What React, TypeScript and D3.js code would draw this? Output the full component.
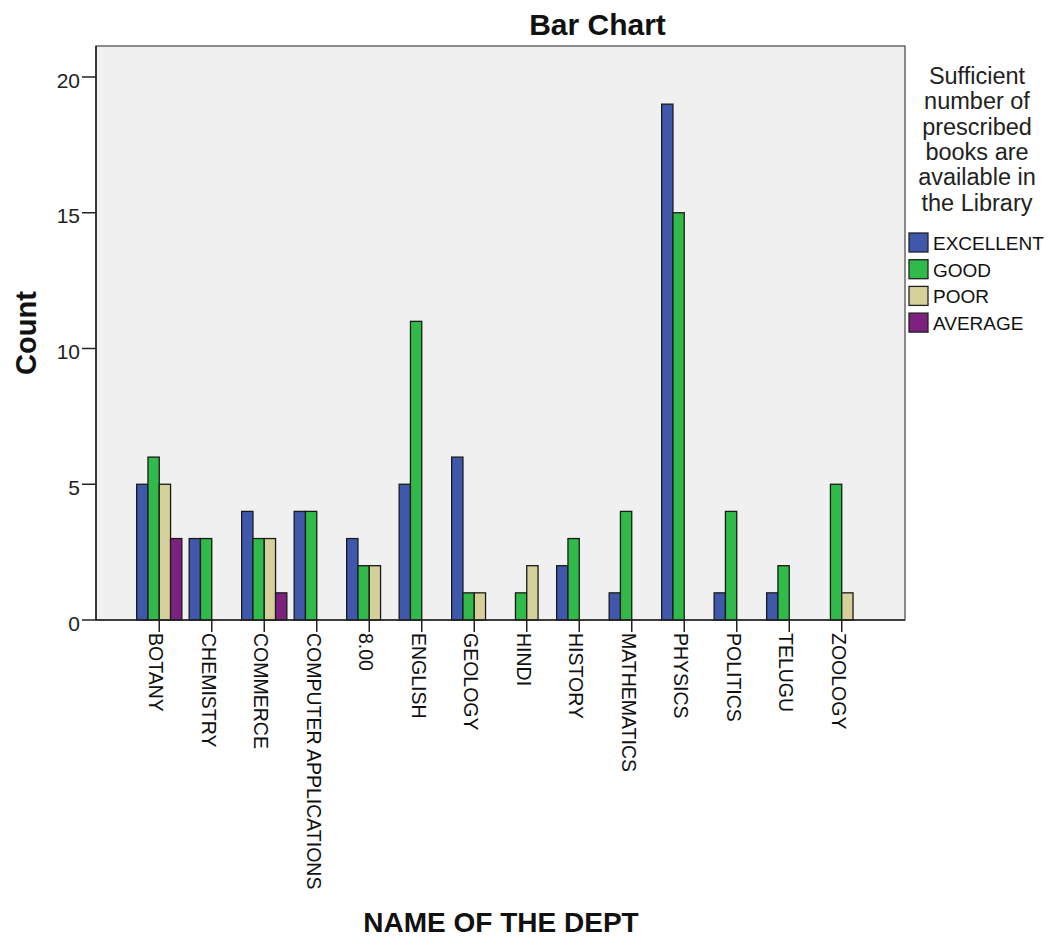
import React from "react";
import * as d3 from "d3";

const categories = ["BOTANY","CHEMISTRY","COMMERCE","COMPUTER APPLICATIONS","8.00","ENGLISH","GEOLOGY","HINDI","HISTORY","MATHEMATICS","PHYSICS","POLITICS","TELUGU","ZOOLOGY"];
const seriesNames = ["EXCELLENT","GOOD","POOR","AVERAGE"];
const excellent = [5,3,4,4,3,5,6,null,2,1,19,1,1,null];
const good = [6,3,3,4,2,11,1,1,3,4,15,4,2,5];
const poor = [5,null,3,null,2,null,1,2,null,null,null,null,null,1];
const average = [3,null,1,null,null,null,null,null,null,null,null,null,null,null];
const yTicks = [0,5,10,15,20];
const legendTitle = ["Sufficient","number of","prescribed","books are","available in","the Library"];
const colors = ["#3F58AB","#2FBA4A","#D5D09A","#7D2180"];

const W = 1050, H = 939;
const left = 96, right = 905, top = 46, bottom = 620;
const font = "'Liberation Sans', Arial, sans-serif";

export default function App() {
  const series = [excellent, good, poor, average];
  const x = d3.scalePoint<string>().domain(categories).range([left, right]).padding(1.205);
  const y = d3.scaleLinear().domain([0, 20]).range([bottom, 77]);
  const barW = 11.3;
  const inner = d3.scaleBand<number>().domain([0,1,2,3]).range([-2*barW, 2*barW]).padding(0);

  return (
    <svg width={W} height={H} style={{ position: "absolute", left: 0, top: 0 }} fontFamily={font}>
      <rect x={0} y={0} width={W} height={H} fill="#fff" />
      <text x={597.5} y={35} textAnchor="middle" fontSize={30} fontWeight="bold" fill="#111">Bar Chart</text>
      <rect x={left} y={top} width={right - left} height={bottom - top} fill="#F0F0F0" stroke="#444" strokeWidth={1.2} />
      {series.map((vals, si) =>
        vals.map((v, ci) => v == null ? null : (
          <rect key={`${si}-${ci}`} x={(x(categories[ci]) as number) + (inner(si) as number)} y={y(v)}
            width={inner.bandwidth()} height={bottom - y(v)} fill={colors[si]} stroke="#1a1a1a" strokeWidth={1.3} />
        ))
      )}
      <line x1={left} x2={left} y1={top} y2={bottom} stroke="#222" strokeWidth={1.6} />
      <line x1={left} x2={right} y1={bottom} y2={bottom} stroke="#222" strokeWidth={1.6} />
      {yTicks.map(t => (
        <g key={t}>
          <line x1={82} x2={left} y1={y(t)} y2={y(t)} stroke="#222" strokeWidth={1.5} />
          <text x={80} y={y(t) + 10.5} textAnchor="end" fontSize={21} fill="#222">{t}</text>
        </g>
      ))}
      {categories.map(c => {
        const cx = x(c) as number;
        return (
          <g key={c}>
            <line x1={cx} x2={cx} y1={bottom} y2={632} stroke="#222" strokeWidth={1.5} />
            <text transform={`translate(${cx - 10},${633}) rotate(90)`} fontSize={19.5} fill="#111" textAnchor="start">{c}</text>
          </g>
        );
      })}
      <text transform={`translate(35.5,333) rotate(-90)`} textAnchor="middle" fontSize={29} fontWeight="bold" fill="#111">Count</text>
      <text x={501} y={932} textAnchor="middle" fontSize={28} fontWeight="bold" fill="#111">NAME OF THE DEPT</text>
      {legendTitle.map((l, i) => (
        <text key={l} x={977} y={84 + i * 25.3} textAnchor="middle" fontSize={23.5} fill="#222">{l}</text>
      ))}
      {seriesNames.map((s, i) => (
        <g key={s}>
          <rect x={909} y={233 + i * 26.7} width={19} height={19} fill={colors[i]} stroke="#222" strokeWidth={1.3} />
          <text x={933} y={250 + i * 26.7} fontSize={19} fill="#111">{s}</text>
        </g>
      ))}
    </svg>
  );
}
